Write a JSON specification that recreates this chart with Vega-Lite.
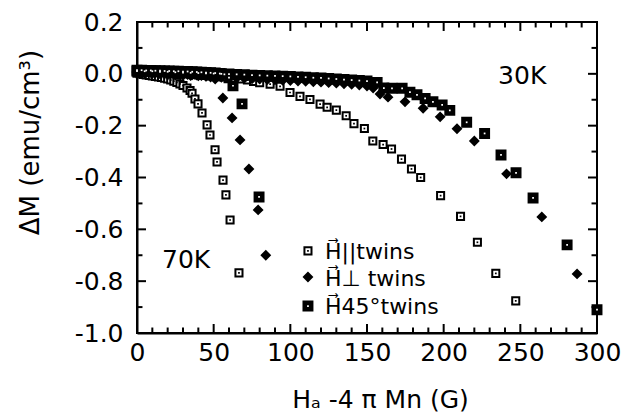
{
  "$schema": "https://vega.github.io/schema/vega-lite/v6.json",
  "width": 460,
  "height": 311,
  "autosize": "none",
  "padding": {"left": 137, "top": 22, "right": 25, "bottom": 83},
  "background": "white",
  "config": {
    "view": {"stroke": "black", "strokeWidth": 2},
    "font": "DejaVu Sans"
  },
  "datasets": {
    "pts": [
      {"H":0,"M":0.002,"o":"par","T":"70K"},{"H":2,"M":0.0,"o":"par","T":"70K"},{"H":4,"M":-0.002,"o":"par","T":"70K"},{"H":6,"M":-0.004,"o":"par","T":"70K"},{"H":8,"M":-0.006,"o":"par","T":"70K"},{"H":10,"M":-0.008,"o":"par","T":"70K"},{"H":12,"M":-0.01,"o":"par","T":"70K"},{"H":14,"M":-0.012,"o":"par","T":"70K"},{"H":16,"M":-0.014,"o":"par","T":"70K"},{"H":18,"M":-0.017,"o":"par","T":"70K"},{"H":20,"M":-0.02,"o":"par","T":"70K"},{"H":22,"M":-0.024,"o":"par","T":"70K"},{"H":24,"M":-0.028,"o":"par","T":"70K"},{"H":26,"M":-0.033,"o":"par","T":"70K"},{"H":28,"M":-0.039,"o":"par","T":"70K"},{"H":30,"M":-0.045,"o":"par","T":"70K"},{"H":32.6,"M":-0.055,"o":"par","T":"70K"},{"H":34.6,"M":-0.064,"o":"par","T":"70K"},{"H":35.9,"M":-0.075,"o":"par","T":"70K"},{"H":37.8,"M":-0.097,"o":"par","T":"70K"},{"H":39.8,"M":-0.116,"o":"par","T":"70K"},{"H":42.4,"M":-0.151,"o":"par","T":"70K"},{"H":45.7,"M":-0.197,"o":"par","T":"70K"},{"H":47.6,"M":-0.236,"o":"par","T":"70K"},{"H":50.9,"M":-0.293,"o":"par","T":"70K"},{"H":52.2,"M":-0.34,"o":"par","T":"70K"},{"H":56.1,"M":-0.41,"o":"par","T":"70K"},{"H":58,"M":-0.467,"o":"par","T":"70K"},{"H":60.7,"M":-0.564,"o":"par","T":"70K"},{"H":66.5,"M":-0.768,"o":"par","T":"70K"},
      {"H":0,"M":0.008,"o":"perp","T":"70K"},{"H":3,"M":0.007,"o":"perp","T":"70K"},{"H":6,"M":0.006,"o":"perp","T":"70K"},{"H":9,"M":0.005,"o":"perp","T":"70K"},{"H":12,"M":0.004,"o":"perp","T":"70K"},{"H":15,"M":0.003,"o":"perp","T":"70K"},{"H":18,"M":0.002,"o":"perp","T":"70K"},{"H":21,"M":0.001,"o":"perp","T":"70K"},{"H":24,"M":0.0,"o":"perp","T":"70K"},{"H":27,"M":-0.001,"o":"perp","T":"70K"},{"H":30,"M":-0.002,"o":"perp","T":"70K"},{"H":33,"M":-0.003,"o":"perp","T":"70K"},{"H":36,"M":-0.004,"o":"perp","T":"70K"},{"H":39,"M":-0.005,"o":"perp","T":"70K"},{"H":42,"M":-0.007,"o":"perp","T":"70K"},{"H":45,"M":-0.009,"o":"perp","T":"70K"},{"H":48,"M":-0.012,"o":"perp","T":"70K"},{"H":51,"M":-0.02,"o":"perp","T":"70K"},{"H":56,"M":-0.093,"o":"perp","T":"70K"},{"H":62,"M":-0.17,"o":"perp","T":"70K"},{"H":67.2,"M":-0.255,"o":"perp","T":"70K"},{"H":73,"M":-0.367,"o":"perp","T":"70K"},{"H":79,"M":-0.525,"o":"perp","T":"70K"},{"H":84,"M":-0.7,"o":"perp","T":"70K"},
      {"H":0,"M":0.014,"o":"45","T":"70K"},{"H":3,"M":0.014,"o":"45","T":"70K"},{"H":6,"M":0.013,"o":"45","T":"70K"},{"H":9,"M":0.013,"o":"45","T":"70K"},{"H":12,"M":0.012,"o":"45","T":"70K"},{"H":15,"M":0.012,"o":"45","T":"70K"},{"H":18,"M":0.011,"o":"45","T":"70K"},{"H":21,"M":0.011,"o":"45","T":"70K"},{"H":24,"M":0.01,"o":"45","T":"70K"},{"H":27,"M":0.01,"o":"45","T":"70K"},{"H":30,"M":0.009,"o":"45","T":"70K"},{"H":33,"M":0.009,"o":"45","T":"70K"},{"H":36,"M":0.008,"o":"45","T":"70K"},{"H":39,"M":0.007,"o":"45","T":"70K"},{"H":42,"M":0.006,"o":"45","T":"70K"},{"H":45,"M":0.005,"o":"45","T":"70K"},{"H":48,"M":0.004,"o":"45","T":"70K"},{"H":51,"M":0.003,"o":"45","T":"70K"},{"H":54,"M":0.001,"o":"45","T":"70K"},{"H":57,"M":-0.002,"o":"45","T":"70K"},{"H":60,"M":-0.015,"o":"45","T":"70K"},{"H":62.6,"M":-0.046,"o":"45","T":"70K"},{"H":68.5,"M":-0.116,"o":"45","T":"70K"},{"H":79.6,"M":-0.475,"o":"45","T":"70K"},
      {"H":0,"M":0.01,"o":"par","T":"30K"},{"H":4,"M":0.009,"o":"par","T":"30K"},{"H":8,"M":0.008,"o":"par","T":"30K"},{"H":12,"M":0.007,"o":"par","T":"30K"},{"H":16,"M":0.006,"o":"par","T":"30K"},{"H":20,"M":0.005,"o":"par","T":"30K"},{"H":24,"M":0.004,"o":"par","T":"30K"},{"H":28,"M":0.002,"o":"par","T":"30K"},{"H":32,"M":0.0,"o":"par","T":"30K"},{"H":36,"M":-0.002,"o":"par","T":"30K"},{"H":40,"M":-0.004,"o":"par","T":"30K"},{"H":44,"M":-0.006,"o":"par","T":"30K"},{"H":48,"M":-0.008,"o":"par","T":"30K"},{"H":52,"M":-0.01,"o":"par","T":"30K"},{"H":56,"M":-0.012,"o":"par","T":"30K"},{"H":60,"M":-0.014,"o":"par","T":"30K"},{"H":64,"M":-0.017,"o":"par","T":"30K"},{"H":68,"M":-0.02,"o":"par","T":"30K"},{"H":72,"M":-0.024,"o":"par","T":"30K"},{"H":76,"M":-0.029,"o":"par","T":"30K"},{"H":80,"M":-0.034,"o":"par","T":"30K"},{"H":86.8,"M":-0.04,"o":"par","T":"30K"},{"H":93.3,"M":-0.048,"o":"par","T":"30K"},{"H":99.8,"M":-0.072,"o":"par","T":"30K"},{"H":106.3,"M":-0.087,"o":"par","T":"30K"},{"H":112.8,"M":-0.099,"o":"par","T":"30K"},{"H":119.4,"M":-0.117,"o":"par","T":"30K"},{"H":124,"M":-0.129,"o":"par","T":"30K"},{"H":130,"M":-0.14,"o":"par","T":"30K"},{"H":136.4,"M":-0.162,"o":"par","T":"30K"},{"H":141.5,"M":-0.192,"o":"par","T":"30K"},{"H":148.3,"M":-0.211,"o":"par","T":"30K"},{"H":153.8,"M":-0.259,"o":"par","T":"30K"},{"H":160.5,"M":-0.273,"o":"par","T":"30K"},{"H":166,"M":-0.29,"o":"par","T":"30K"},{"H":172.5,"M":-0.329,"o":"par","T":"30K"},{"H":179,"M":-0.367,"o":"par","T":"30K"},{"H":185,"M":-0.4,"o":"par","T":"30K"},{"H":198,"M":-0.47,"o":"par","T":"30K"},{"H":211,"M":-0.55,"o":"par","T":"30K"},{"H":222,"M":-0.65,"o":"par","T":"30K"},{"H":234,"M":-0.77,"o":"par","T":"30K"},{"H":247,"M":-0.876,"o":"par","T":"30K"},
      {"H":0,"M":0.004,"o":"perp","T":"30K"},{"H":5,"M":0.003,"o":"perp","T":"30K"},{"H":10,"M":0.001,"o":"perp","T":"30K"},{"H":15,"M":0.0,"o":"perp","T":"30K"},{"H":20,"M":-0.002,"o":"perp","T":"30K"},{"H":25,"M":-0.004,"o":"perp","T":"30K"},{"H":30,"M":-0.005,"o":"perp","T":"30K"},{"H":35,"M":-0.007,"o":"perp","T":"30K"},{"H":40,"M":-0.008,"o":"perp","T":"30K"},{"H":45,"M":-0.01,"o":"perp","T":"30K"},{"H":50,"M":-0.011,"o":"perp","T":"30K"},{"H":55,"M":-0.013,"o":"perp","T":"30K"},{"H":60,"M":-0.014,"o":"perp","T":"30K"},{"H":65,"M":-0.016,"o":"perp","T":"30K"},{"H":70,"M":-0.017,"o":"perp","T":"30K"},{"H":75,"M":-0.019,"o":"perp","T":"30K"},{"H":80,"M":-0.02,"o":"perp","T":"30K"},{"H":85,"M":-0.022,"o":"perp","T":"30K"},{"H":90,"M":-0.023,"o":"perp","T":"30K"},{"H":95,"M":-0.025,"o":"perp","T":"30K"},{"H":100,"M":-0.026,"o":"perp","T":"30K"},{"H":105,"M":-0.028,"o":"perp","T":"30K"},{"H":110,"M":-0.029,"o":"perp","T":"30K"},{"H":115,"M":-0.031,"o":"perp","T":"30K"},{"H":120,"M":-0.032,"o":"perp","T":"30K"},{"H":125,"M":-0.034,"o":"perp","T":"30K"},{"H":130,"M":-0.036,"o":"perp","T":"30K"},{"H":135,"M":-0.038,"o":"perp","T":"30K"},{"H":140,"M":-0.04,"o":"perp","T":"30K"},{"H":145,"M":-0.043,"o":"perp","T":"30K"},{"H":150,"M":-0.047,"o":"perp","T":"30K"},{"H":154,"M":-0.055,"o":"perp","T":"30K"},{"H":158.5,"M":-0.078,"o":"perp","T":"30K"},{"H":163.7,"M":-0.09,"o":"perp","T":"30K"},{"H":174.8,"M":-0.108,"o":"perp","T":"30K"},{"H":186.6,"M":-0.133,"o":"perp","T":"30K"},{"H":197.7,"M":-0.166,"o":"perp","T":"30K"},{"H":208.7,"M":-0.212,"o":"perp","T":"30K"},{"H":220,"M":-0.259,"o":"perp","T":"30K"},{"H":241,"M":-0.386,"o":"perp","T":"30K"},{"H":264,"M":-0.552,"o":"perp","T":"30K"},{"H":287,"M":-0.772,"o":"perp","T":"30K"},
      {"H":0,"M":0.01,"o":"45","T":"30K"},{"H":5,"M":0.01,"o":"45","T":"30K"},{"H":10,"M":0.01,"o":"45","T":"30K"},{"H":15,"M":0.008,"o":"45","T":"30K"},{"H":20,"M":0.008,"o":"45","T":"30K"},{"H":25,"M":0.006,"o":"45","T":"30K"},{"H":30,"M":0.005,"o":"45","T":"30K"},{"H":35,"M":0.004,"o":"45","T":"30K"},{"H":40,"M":0.003,"o":"45","T":"30K"},{"H":45,"M":0.002,"o":"45","T":"30K"},{"H":50,"M":0.001,"o":"45","T":"30K"},{"H":55,"M":0.0,"o":"45","T":"30K"},{"H":60,"M":-0.001,"o":"45","T":"30K"},{"H":65,"M":-0.002,"o":"45","T":"30K"},{"H":70,"M":-0.003,"o":"45","T":"30K"},{"H":75,"M":-0.005,"o":"45","T":"30K"},{"H":80,"M":-0.006,"o":"45","T":"30K"},{"H":85,"M":-0.007,"o":"45","T":"30K"},{"H":90,"M":-0.008,"o":"45","T":"30K"},{"H":95,"M":-0.009,"o":"45","T":"30K"},{"H":100,"M":-0.01,"o":"45","T":"30K"},{"H":105,"M":-0.012,"o":"45","T":"30K"},{"H":110,"M":-0.013,"o":"45","T":"30K"},{"H":115,"M":-0.015,"o":"45","T":"30K"},{"H":120,"M":-0.016,"o":"45","T":"30K"},{"H":125,"M":-0.018,"o":"45","T":"30K"},{"H":130,"M":-0.02,"o":"45","T":"30K"},{"H":135,"M":-0.022,"o":"45","T":"30K"},{"H":140,"M":-0.024,"o":"45","T":"30K"},{"H":145,"M":-0.026,"o":"45","T":"30K"},{"H":150,"M":-0.028,"o":"45","T":"30K"},{"H":156.6,"M":-0.033,"o":"45","T":"30K"},{"H":161,"M":-0.055,"o":"45","T":"30K"},{"H":166.3,"M":-0.056,"o":"45","T":"30K"},{"H":172.9,"M":-0.056,"o":"45","T":"30K"},{"H":178,"M":-0.071,"o":"45","T":"30K"},{"H":182.6,"M":-0.081,"o":"45","T":"30K"},{"H":187.9,"M":-0.095,"o":"45","T":"30K"},{"H":193,"M":-0.108,"o":"45","T":"30K"},{"H":199,"M":-0.12,"o":"45","T":"30K"},{"H":204,"M":-0.141,"o":"45","T":"30K"},{"H":215,"M":-0.187,"o":"45","T":"30K"},{"H":226.7,"M":-0.23,"o":"45","T":"30K"},{"H":237.4,"M":-0.313,"o":"45","T":"30K"},{"H":247.2,"M":-0.382,"o":"45","T":"30K"},{"H":258.3,"M":-0.479,"o":"45","T":"30K"},{"H":280.5,"M":-0.66,"o":"45","T":"30K"},{"H":300,"M":-0.91,"o":"45","T":"30K"}
    ],
    "leg": [
      {"o":"par","H":111.5,"M":-0.683,"ty":-0.714,"label":"H⃗||twins"},
      {"o":"perp","H":111.5,"M":-0.784,"ty":-0.8185,"label":"H⃗⊥ twins"},
      {"o":"45","H":111.5,"M":-0.896,"ty":-0.927,"label":"H⃗45°twins"}
    ],
    "ann": [
      {"H":16.3,"M":-0.748,"text":"70K"},
      {"H":235.5,"M":-0.039,"text":"30K"}
    ],
    "xmaj": [{"v":0},{"v":50},{"v":100},{"v":150},{"v":200},{"v":250},{"v":300}],
    "xmin": [{"v":10},{"v":20},{"v":30},{"v":40},{"v":60},{"v":70},{"v":80},{"v":90},{"v":110},{"v":120},{"v":130},{"v":140},{"v":160},{"v":170},{"v":180},{"v":190},{"v":210},{"v":220},{"v":230},{"v":240},{"v":260},{"v":270},{"v":280},{"v":290}],
    "ymaj": [{"v":-1},{"v":-0.8},{"v":-0.6},{"v":-0.4},{"v":-0.2},{"v":0},{"v":0.2}],
    "ymin": [{"v":-0.9},{"v":-0.7},{"v":-0.5},{"v":-0.3},{"v":-0.1},{"v":0.1}]
  },
  "layer": [
    {
      "data": {"name": "pts"},
      "mark": {"type": "point", "filled": true, "stroke": "black", "strokeWidth": 2, "opacity": 1},
      "encoding": {
        "x": {"field": "H", "type": "quantitative", "scale": {"domain": [0, 300], "nice": false, "zero": false},
          "axis": {"orient": "bottom", "values": [0,50,100,150,200,250,300], "labelOverlap": false,
            "labelFontSize": 25, "labelPadding": 7, "labelFlush": false, "labelColor": "black", "labelFont": "DejaVu Sans",
            "ticks": false, "tickSize": 0, "grid": false, "domainColor": "black", "domainWidth": 2,
            "title": "Hₐ -4 π Mn (G)", "titleFontSize": 25, "titleFont": "DejaVu Sans", "titleFontWeight": "normal", "titleColor": "black", "titlePadding": 22, "titleX": 243}},
        "y": {"field": "M", "type": "quantitative", "scale": {"domain": [-1, 0.2], "nice": false, "zero": false},
          "axis": {"orient": "left", "values": [-1,-0.8,-0.6,-0.4,-0.2,0,0.2], "labelOverlap": false,
            "labelExpr": "datum.value < -0.001 ? '-' + format(abs(datum.value), '.1f') : format(abs(datum.value), '.1f')",
            "labelFontSize": 25, "labelPadding": 14, "labelFlush": false, "labelColor": "black", "labelFont": "DejaVu Sans",
            "ticks": false, "tickSize": 0, "grid": false, "domainColor": "black", "domainWidth": 2,
            "title": "ΔM (emu/cm³)", "titleFontSize": 26, "titleFont": "DejaVu Sans", "titleFontWeight": "normal", "titleColor": "black", "titleX": -107, "titleY": 120, "titleBaseline": "middle"}},
        "shape": {"field": "o", "type": "nominal", "scale": {"domain": ["par","perp","45"], "range": ["square","diamond","square"]}, "legend": null},
        "fill": {"field": "o", "type": "nominal", "scale": {"domain": ["par","perp","45"], "range": ["white","black","black"]}, "legend": null},
        "size": {"field": "o", "type": "nominal", "scale": {"domain": ["par","perp","45"], "range": [50, 80, 64]}, "legend": null}
      }
    },
    {
      "data": {"name": "pts"},
      "transform": [{"filter": "datum.o === 'par'"}],
      "mark": {"type": "square", "size": 3, "color": "black", "opacity": 1},
      "encoding": {
        "x": {"field": "H", "type": "quantitative", "axis": null},
        "y": {"field": "M", "type": "quantitative", "axis": null}
      }
    },
    {
      "data": {"name": "pts"},
      "transform": [{"filter": "datum.o === '45'"}],
      "mark": {"type": "square", "size": 3, "color": "white", "opacity": 1},
      "encoding": {
        "x": {"field": "H", "type": "quantitative", "axis": null},
        "y": {"field": "M", "type": "quantitative", "axis": null}
      }
    },
    {
      "data": {"name": "xmaj"},
      "mark": {"type": "point", "shape": "M0,0V-2", "size": 81, "filled": false, "stroke": "black", "strokeWidth": 2, "opacity": 1},
      "encoding": {"x": {"field": "v", "type": "quantitative", "axis": null}, "y": {"datum": -1, "type": "quantitative", "axis": null}}
    },
    {
      "data": {"name": "xmin"},
      "mark": {"type": "point", "shape": "M0,0V-2", "size": 30, "filled": false, "stroke": "black", "strokeWidth": 2, "opacity": 1},
      "encoding": {"x": {"field": "v", "type": "quantitative", "axis": null}, "y": {"datum": -1, "type": "quantitative", "axis": null}}
    },
    {
      "data": {"name": "xmaj"},
      "mark": {"type": "point", "shape": "M0,0V2", "size": 81, "filled": false, "stroke": "black", "strokeWidth": 2, "opacity": 1},
      "encoding": {"x": {"field": "v", "type": "quantitative", "axis": null}, "y": {"datum": 0.2, "type": "quantitative", "axis": null}}
    },
    {
      "data": {"name": "xmin"},
      "mark": {"type": "point", "shape": "M0,0V2", "size": 30, "filled": false, "stroke": "black", "strokeWidth": 2, "opacity": 1},
      "encoding": {"x": {"field": "v", "type": "quantitative", "axis": null}, "y": {"datum": 0.2, "type": "quantitative", "axis": null}}
    },
    {
      "data": {"name": "ymaj"},
      "mark": {"type": "point", "shape": "M0,0H2", "size": 81, "filled": false, "stroke": "black", "strokeWidth": 2, "opacity": 1},
      "encoding": {"y": {"field": "v", "type": "quantitative", "axis": null}, "x": {"datum": 0, "type": "quantitative", "axis": null}}
    },
    {
      "data": {"name": "ymin"},
      "mark": {"type": "point", "shape": "M0,0H2", "size": 30, "filled": false, "stroke": "black", "strokeWidth": 2, "opacity": 1},
      "encoding": {"y": {"field": "v", "type": "quantitative", "axis": null}, "x": {"datum": 0, "type": "quantitative", "axis": null}}
    },
    {
      "data": {"name": "ymaj"},
      "mark": {"type": "point", "shape": "M0,0H-2", "size": 81, "filled": false, "stroke": "black", "strokeWidth": 2, "opacity": 1},
      "encoding": {"y": {"field": "v", "type": "quantitative", "axis": null}, "x": {"datum": 300, "type": "quantitative", "axis": null}}
    },
    {
      "data": {"name": "ymin"},
      "mark": {"type": "point", "shape": "M0,0H-2", "size": 30, "filled": false, "stroke": "black", "strokeWidth": 2, "opacity": 1},
      "encoding": {"y": {"field": "v", "type": "quantitative", "axis": null}, "x": {"datum": 300, "type": "quantitative", "axis": null}}
    },
    {
      "data": {"name": "leg"},
      "mark": {"type": "point", "filled": true, "stroke": "black", "strokeWidth": 2, "opacity": 1},
      "encoding": {
        "x": {"field": "H", "type": "quantitative", "axis": null},
        "y": {"field": "M", "type": "quantitative", "axis": null},
        "shape": {"field": "o", "type": "nominal", "legend": null},
        "fill": {"field": "o", "type": "nominal", "legend": null},
        "size": {"field": "o", "type": "nominal", "legend": null}
      }
    },
    {
      "data": {"name": "leg"},
      "transform": [{"filter": "datum.o === 'par'"}],
      "mark": {"type": "square", "size": 3, "color": "black", "opacity": 1},
      "encoding": {
        "x": {"field": "H", "type": "quantitative", "axis": null},
        "y": {"field": "M", "type": "quantitative", "axis": null}
      }
    },
    {
      "data": {"name": "leg"},
      "transform": [{"filter": "datum.o === '45'"}],
      "mark": {"type": "square", "size": 3, "color": "white", "opacity": 1},
      "encoding": {
        "x": {"field": "H", "type": "quantitative", "axis": null},
        "y": {"field": "M", "type": "quantitative", "axis": null}
      }
    },
    {
      "data": {"name": "leg"},
      "mark": {"type": "text", "align": "left", "baseline": "alphabetic", "fontSize": 22, "font": "DejaVu Sans", "color": "black", "dx": 17},
      "encoding": {
        "x": {"field": "H", "type": "quantitative", "axis": null},
        "y": {"field": "ty", "type": "quantitative", "axis": null},
        "text": {"field": "label"}
      }
    },
    {
      "data": {"name": "ann"},
      "mark": {"type": "text", "align": "left", "baseline": "alphabetic", "fontSize": 25, "font": "DejaVu Sans", "color": "black"},
      "encoding": {
        "x": {"field": "H", "type": "quantitative", "axis": null},
        "y": {"field": "M", "type": "quantitative", "axis": null},
        "text": {"field": "text"}
      }
    }
  ],
  "resolve": {"axis": {"x": "independent", "y": "independent"}}
}
